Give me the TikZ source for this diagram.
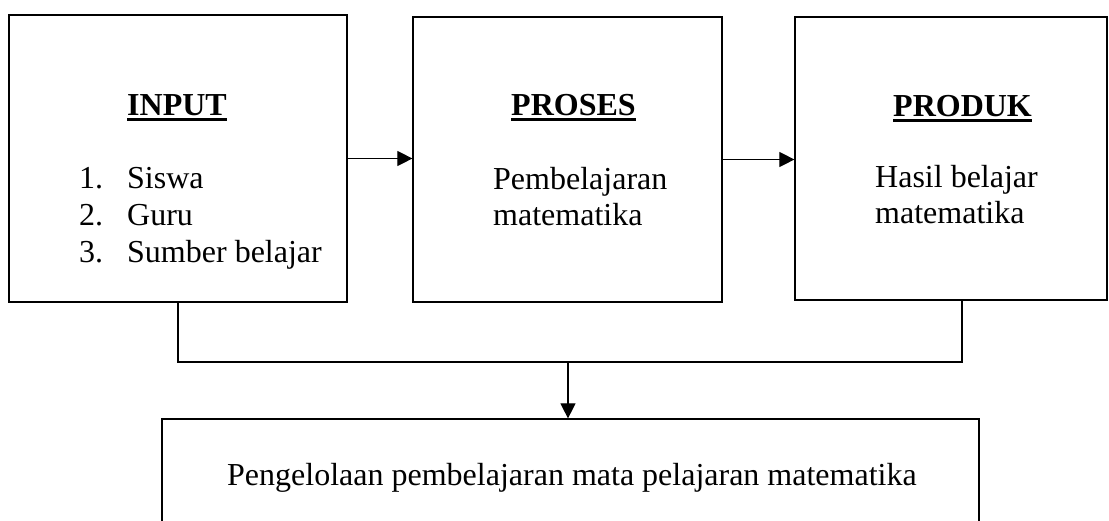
\documentclass[tikz,border=0pt]{standalone}
\usepackage{fontspec}
\setmainfont{Liberation Serif}
\usetikzlibrary{arrows.meta}

\newcommand{\garisbawah}[1]{\setbox0\hbox{#1}\rlap{\usebox0}\rule[-6pt]{\wd0}{2.8pt}}

\tikzset{
  kotak/.style={draw, line width=1.2pt, inner sep=0pt},
  teks/.style={inner sep=0pt, anchor=base west, font=\fontsize{32}{37}\selectfont},
  judul/.style={teks, font=\fontsize{32}{37}\selectfont\bfseries},
  garis/.style={line width=1.1pt},
  panah/.style={garis, -{Triangle[length=15pt,width=15pt]}}
}

\begin{document}
\begin{tikzpicture}[x=1pt,y=-1pt]
      \useasboundingbox (0,0) rectangle (1109,520);
      % kotak
      \node[kotak, minimum width=338pt, minimum height=287pt] (input) at (178,158.5) {};
      \node[kotak, minimum width=309pt, minimum height=285pt] (proses) at (567.5,159.5) {};
      \node[kotak, minimum width=312pt, minimum height=283pt] (produk) at (951,158.5) {};
      \node[kotak, minimum width=817pt, minimum height=121pt] (kelola) at (570.5,479.5) {};
      % teks input
      \node[judul] (tin) at (127,115) {\garisbawah{INPUT}};
      \node[teks] (n1) at (79,188) {1.};
      \node[teks] (n2) at (79,225) {2.};
      \node[teks] (n3) at (79,262) {3.};
      \node[teks] (s1) at (127,188) {Siswa};
      \node[teks] (s2) at (127,225) {Guru};
      \node[teks] (s3) at (127,262) {Sumber belajar};
      % teks proses
      \node[judul] (tpr) at (511,115) {\garisbawah{PROSES}};
      \node[teks] (p1) at (493,189) {Pembelajaran};
      \node[teks] (p2) at (493,225) {matematika};
      % teks produk
      \node[judul] (tpd) at (893,116) {\garisbawah{PRODUK}};
      \node[teks] (h1) at (875,187) {Hasil belajar};
      \node[teks] (h2) at (875,223) {matematika};
      % teks bawah
      \node[teks] (tkl) at (227,485) {Pengelolaan pembelajaran mata pelajaran matematika};
      % panah
      \coordinate (bus) at (568,362);
      \coordinate (kanan) at (962,300);
      \draw[panah] (input.east) -- (input.east -| proses.west);
      \draw[panah] (proses.east) -- (proses.east -| produk.west);
      \draw[garis] (input.south) |- (bus) -| (kanan);
      \draw[panah] (bus) -- (bus |- kelola.north);
    \end{tikzpicture}
\end{document}
